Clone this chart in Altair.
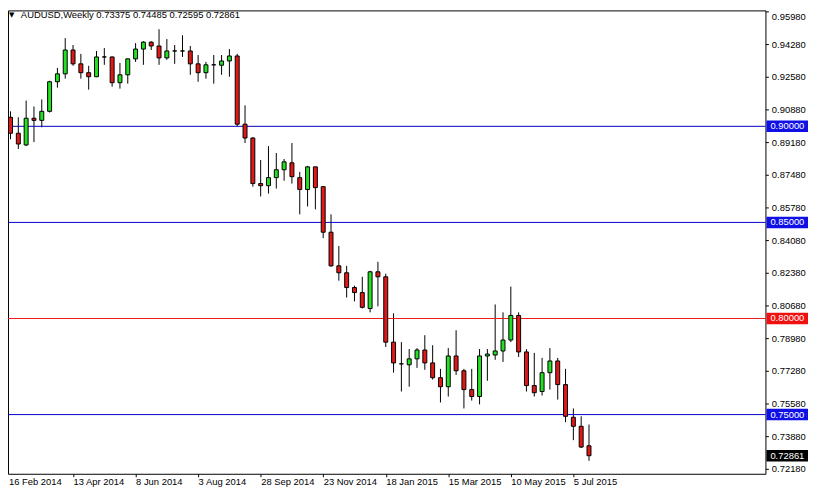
import altair as alt
import pandas as pd

# ---------------- data (weekly AUDUSD candles, week 0 = 16 Feb 2014) ----------------
week_index = list(range(75))
opens = [0.9047, 0.8964, 0.8903, 0.9042, 0.9031, 0.9078, 0.9232, 0.9273, 0.9397, 0.9325,
         0.9279, 0.9258, 0.9361, 0.9361, 0.9227, 0.9268, 0.9351, 0.9402, 0.9438, 0.9418,
         0.9356, 0.9392, 0.9392, 0.9392, 0.9325, 0.9279, 0.9320, 0.9318, 0.9340, 0.9366,
         0.9011, 0.8939, 0.8702, 0.8691, 0.8733, 0.8774, 0.8810, 0.8733, 0.8671, 0.8789,
         0.8686, 0.8449, 0.8274, 0.8238, 0.8161, 0.8135, 0.8052, 0.8243, 0.8217, 0.7877,
         0.7764, 0.7759, 0.7790, 0.7836, 0.7769, 0.7692, 0.7645, 0.7805, 0.7728, 0.7630,
         0.7594, 0.7805, 0.7810, 0.7831, 0.7888, 0.8016, 0.7826, 0.7651, 0.7620, 0.7718,
         0.7779, 0.7656, 0.7486, 0.7439, 0.73375]
highs = [0.9078, 0.9047, 0.9134, 0.9103, 0.9140, 0.9237, 0.9304, 0.9459, 0.9423, 0.9377,
         0.9315, 0.9392, 0.9407, 0.9363, 0.9330, 0.9353, 0.9433, 0.9443, 0.9443, 0.9505,
         0.9454, 0.9423, 0.9474, 0.9418, 0.9371, 0.9335, 0.9371, 0.9371, 0.9402, 0.9377,
         0.9109, 0.8944, 0.8825, 0.8897, 0.8861, 0.8830, 0.8913, 0.8763, 0.8794, 0.8789,
         0.8686, 0.8542, 0.8377, 0.8274, 0.8171, 0.8217, 0.8248, 0.8295, 0.8233, 0.8027,
         0.7877, 0.7841, 0.7846, 0.7913, 0.7861, 0.7738, 0.7846, 0.7939, 0.7738, 0.7738,
         0.7841, 0.7841, 0.8073, 0.8032, 0.8166, 0.8032, 0.7841, 0.7821, 0.7795, 0.7846,
         0.7795, 0.7738, 0.7532, 0.7491, 0.74485]
lows = [0.8933, 0.8882, 0.8897, 0.8918, 0.8995, 0.9072, 0.9201, 0.9248, 0.9315, 0.9248,
        0.9191, 0.9256, 0.9320, 0.9206, 0.9196, 0.9222, 0.9335, 0.9320, 0.9397, 0.9320,
        0.9346, 0.9325, 0.9361, 0.9268, 0.9232, 0.9248, 0.9222, 0.9268, 0.9258, 0.9000,
        0.8913, 0.8686, 0.8635, 0.8650, 0.8676, 0.8717, 0.8702, 0.8542, 0.8583, 0.8568,
        0.8418, 0.8269, 0.8197, 0.8109, 0.8089, 0.8052, 0.8032, 0.8063, 0.7852, 0.7718,
        0.7620, 0.7645, 0.7743, 0.7733, 0.7682, 0.7563, 0.7594, 0.7707, 0.7532, 0.7573,
        0.7553, 0.7676, 0.7785, 0.7774, 0.7877, 0.7800, 0.7620, 0.7594, 0.7599, 0.7630,
        0.7578, 0.7460, 0.7367, 0.7326, 0.72595]
closes = [0.8964, 0.8908, 0.9042, 0.9031, 0.9078, 0.9232, 0.9273, 0.9397, 0.9325, 0.9279,
          0.9258, 0.9361, 0.9361, 0.9227, 0.9268, 0.9351, 0.9402, 0.9438, 0.9418, 0.9356,
          0.9392, 0.9392, 0.9392, 0.9325, 0.9279, 0.9320, 0.9320, 0.9340, 0.9366, 0.9011,
          0.8939, 0.8702, 0.8691, 0.8733, 0.8774, 0.8815, 0.8738, 0.8671, 0.8789, 0.8681,
          0.8449, 0.8274, 0.8238, 0.8161, 0.8135, 0.8058, 0.8243, 0.8217, 0.7877, 0.7769,
          0.7764, 0.7790, 0.7836, 0.7769, 0.7692, 0.7645, 0.7805, 0.7728, 0.7630, 0.7594,
          0.7805, 0.7815, 0.7831, 0.7888, 0.8016, 0.7826, 0.7651, 0.7614, 0.7718, 0.7779,
          0.7656, 0.7491, 0.7439, 0.7331, 0.72861]

tick_weeks = [0, 8, 16, 24, 32, 40, 48, 56, 64, 72]
tick_labels = ["16 Feb 2014", "13 Apr 2014", "8 Jun 2014", "3 Aug 2014", "28 Sep 2014",
               "23 Nov 2014", "18 Jan 2015", "15 Mar 2015", "10 May 2015", "5 Jul 2015"]
price_ticks = [0.72180, 0.73880, 0.75580, 0.77280, 0.78980, 0.80680, 0.82380, 0.84080,
               0.85780, 0.87480, 0.89180, 0.90880, 0.92580, 0.94280, 0.95980]

levels = [0.90, 0.85, 0.80, 0.75]
level_line_colors = ["#0000C0", "#0000D0", "#F01818", "#0000D0"]
box_prices = [0.90, 0.85, 0.80, 0.75, 0.72861]
box_colors = ["#0F0FE6", "#0F0FE6", "#F01010", "#0F0FE6", "#000000"]

header_symbol = "AUDUSD,Weekly"
header_ohlc = "0.73375 0.74485 0.72595 0.72861"

# ---------------- chart ----------------
W, H = 765, 468
FONT = "Liberation Sans"
FS = 9.5

df = pd.DataFrame({"i": week_index, "open": opens, "high": highs, "low": lows, "close": closes})
df["dir"] = ["up" if c > o else ("down" if c < o else "flat") for o, c in zip(opens, closes)]

xs = alt.Scale(domain=[0.3125, 0.3125 + W / 8], nice=False, zero=False)
ys = alt.Scale(domain=[0.719202, 0.960315], nice=False, zero=False)

label_expr = "[" + ",".join("'%s'" % t for t in tick_labels) + "][round(datum.value / 8)]"

x_axis = alt.Axis(values=tick_weeks[1:], labelExpr=label_expr, labelAlign="left",
                  tickSize=3, tickColor="black", domain=False, grid=False,
                  labelFont=FONT, labelFontSize=FS, labelColor="black",
                  labelPadding=0, labelFlush=False, labelOverlap=False, title=None)
y_axis = alt.Axis(orient="right", values=price_ticks, format=".5f", tickSize=3,
                  tickColor="black", domain=False, grid=False, labelFont=FONT,
                  labelFontSize=FS, labelColor="black", labelPadding=3,
                  labelOverlap=False, labelFlush=2, title=None)


def X(field):
    return alt.X(field, scale=xs, axis=x_axis, title=None)


def Y(field):
    return alt.Y(field, scale=ys, axis=y_axis, title=None)


base = alt.Chart(df)

wicks = base.mark_rule(color="black", strokeWidth=1, clip=True).encode(
    x=X("i:Q"), y=Y("low:Q"), y2="high:Q")

bodies = base.mark_bar(size=4, stroke="black", strokeWidth=1, clip=True).encode(
    x=X("i:Q"), y=Y("open:Q"), y2="close:Q",
    color=alt.Color("dir:N", scale=alt.Scale(domain=["up", "down", "flat"],
                                             range=["#22E022", "#E01818", "#000000"]),
                    legend=None),
)

layers = [wicks]
for p, c in zip(levels, level_line_colors):
    layers.append(
        alt.Chart(pd.DataFrame({"price": [p]})).mark_rule(strokeWidth=1, color=c).encode(
            y=Y("price:Q"))
    )
layers.append(bodies)
for p, c in zip(box_prices, box_colors):
    bd = pd.DataFrame({"price": [p]})
    layers.append(
        alt.Chart(bd).transform_calculate(
            lo="datum.price - 0.0030", hi="datum.price + 0.0030"
        ).mark_rect(color=c).encode(
            x=alt.value(W + 1), x2=alt.value(W + 43),
            y=Y("lo:Q"), y2="hi:Q")
    )
    layers.append(
        alt.Chart(bd).mark_text(align="left", baseline="middle", color="white",
                                font=FONT, fontSize=FS).encode(
            x=alt.value(W + 5), y=Y("price:Q"),
            text=alt.Text("price:Q", format=".5f"))
    )

first_label = alt.Chart(pd.DataFrame({"t": [tick_labels[0]]})).mark_text(
    align="left", baseline="top", font=FONT, fontSize=FS, color="black").encode(
    x=alt.value(1), y=alt.value(H + 3), text="t:N")

tri = alt.Chart(pd.DataFrame({"t": ["\u25BC"]})).mark_text(
    align="left", baseline="middle", font="DejaVu Sans", fontSize=7, color="black").encode(
    x=alt.value(1), y=alt.value(5), text="t:N")
header = alt.Chart(pd.DataFrame({"t": [header_symbol + "  " + header_ohlc]})).mark_text(
    align="left", baseline="middle", font=FONT, fontSize=9.5, color="black").encode(
    x=alt.value(13), y=alt.value(5), text="t:N")

layers += [first_label, tri, header]

chart = alt.layer(*layers).properties(
    width=W, height=H,
    autosize=alt.AutoSizeParams(type="none"),
    padding={"left": 0, "top": 0, "right": 44, "bottom": 18},
    background="white",
).configure_view(stroke="black", strokeWidth=1).configure_axis(labelOverlap=False)

chart.save("out.html", embed_options={"renderer": "svg", "actions": False})
